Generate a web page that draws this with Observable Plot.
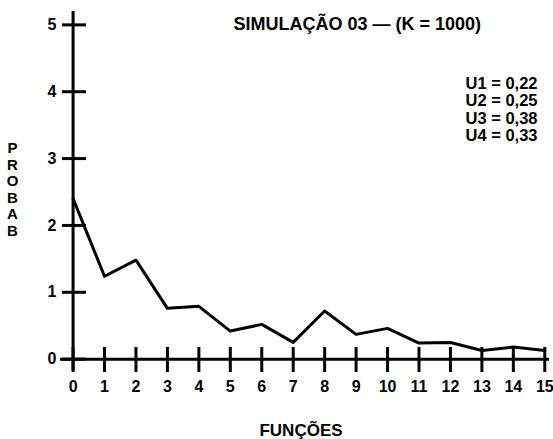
<!DOCTYPE html>
<html><head><meta charset="utf-8">
<script src="https://cdn.jsdelivr.net/npm/d3@7"></script>
<script src="https://cdn.jsdelivr.net/npm/@observablehq/plot@0.6"></script>
<style>body{margin:0;background:#fff}</style>
</head><body><div id="chart"></div>
<script>
const funcoes = [0, 1, 2, 3, 4, 5, 6, 7, 8, 9, 10, 11, 12, 13, 14, 15];
const probab = [2.4, 1.24, 1.48, 0.76, 0.79, 0.42, 0.52, 0.25, 0.72, 0.37, 0.46, 0.24, 0.25, 0.13, 0.18, 0.13];
const xTicks = [0, 1, 2, 3, 4, 5, 6, 7, 8, 9, 10, 11, 12, 13, 14, 15];
const yTicks = [0, 1, 2, 3, 4, 5];
const title = "SIMULAÇÃO 03 — (K = 1000)";
const legendLines = ["U1 = 0,22", "U2 = 0,25", "U3 = 0,38", "U4 = 0,33"];
const xLabel = "FUNÇÕES";
const yLabel = "PROBAB";

const data = funcoes.map((f, i) => ({f, p: probab[i]}));

const chart = Plot.plot({
  width: 553,
  height: 439,
  marginLeft: 60,
  marginRight: 4,
  marginTop: 11,
  marginBottom: 69,
  style: {fontFamily: "'Liberation Sans', Arial, sans-serif", fontWeight: "bold", background: "#fff", color: "#000"},
  x: {domain: [-0.4, 15.15], axis: null},
  y: {domain: [-0.17, 5.2], axis: null},
  marks: [
    Plot.ruleY([0], {strokeWidth: 3, stroke: "#000"}),
    Plot.ruleX([0], {strokeWidth: 3, stroke: "#000"}),
    Plot.tickX(xTicks, {x: d => d, insetTop: 336, insetBottom: -2, strokeWidth: 3, stroke: "#000"}),
    Plot.tickY(yTicks, {y: d => d, insetLeft: 2, insetRight: 463, strokeWidth: 3, stroke: "#000"}),
    Plot.axisX(xTicks, {anchor: "bottom", tickSize: 0, tickPadding: 10, fontSize: 16, fill: "#000", label: null, tickFormat: d => String(d)}),
    Plot.axisY(yTicks, {anchor: "left", tickSize: 0, tickPadding: 4, fontSize: 16, fill: "#000", label: null, tickFormat: d => String(d)}),
    Plot.line(data, {x: "f", y: "p", stroke: "#000", strokeWidth: 3}),
    Plot.text([title], {frameAnchor: "top-left", dx: 173, dy: 13, textAnchor: "start", lineAnchor: "middle", fontSize: 18, fill: "#000"}),
    Plot.text([legendLines.join("\n")], {frameAnchor: "top-left", dx: 405, dy: 65, textAnchor: "start", lineAnchor: "top", lineHeight: 1.06, fontSize: 16.5, fill: "#000", style: {letterSpacing: "0.4px"}}),
    Plot.text([yLabel.split("").join("\n")], {frameAnchor: "left", dx: -48, dy: -2, textAnchor: "middle", lineAnchor: "middle", lineHeight: 1.1, fontSize: 15, fill: "#000"}),
    Plot.text([xLabel], {frameAnchor: "bottom", dx: -4, dy: 60, textAnchor: "middle", lineAnchor: "middle", fontSize: 17, fill: "#000"})
  ]
});
document.getElementById("chart").append(chart);
</script>
</body></html>
